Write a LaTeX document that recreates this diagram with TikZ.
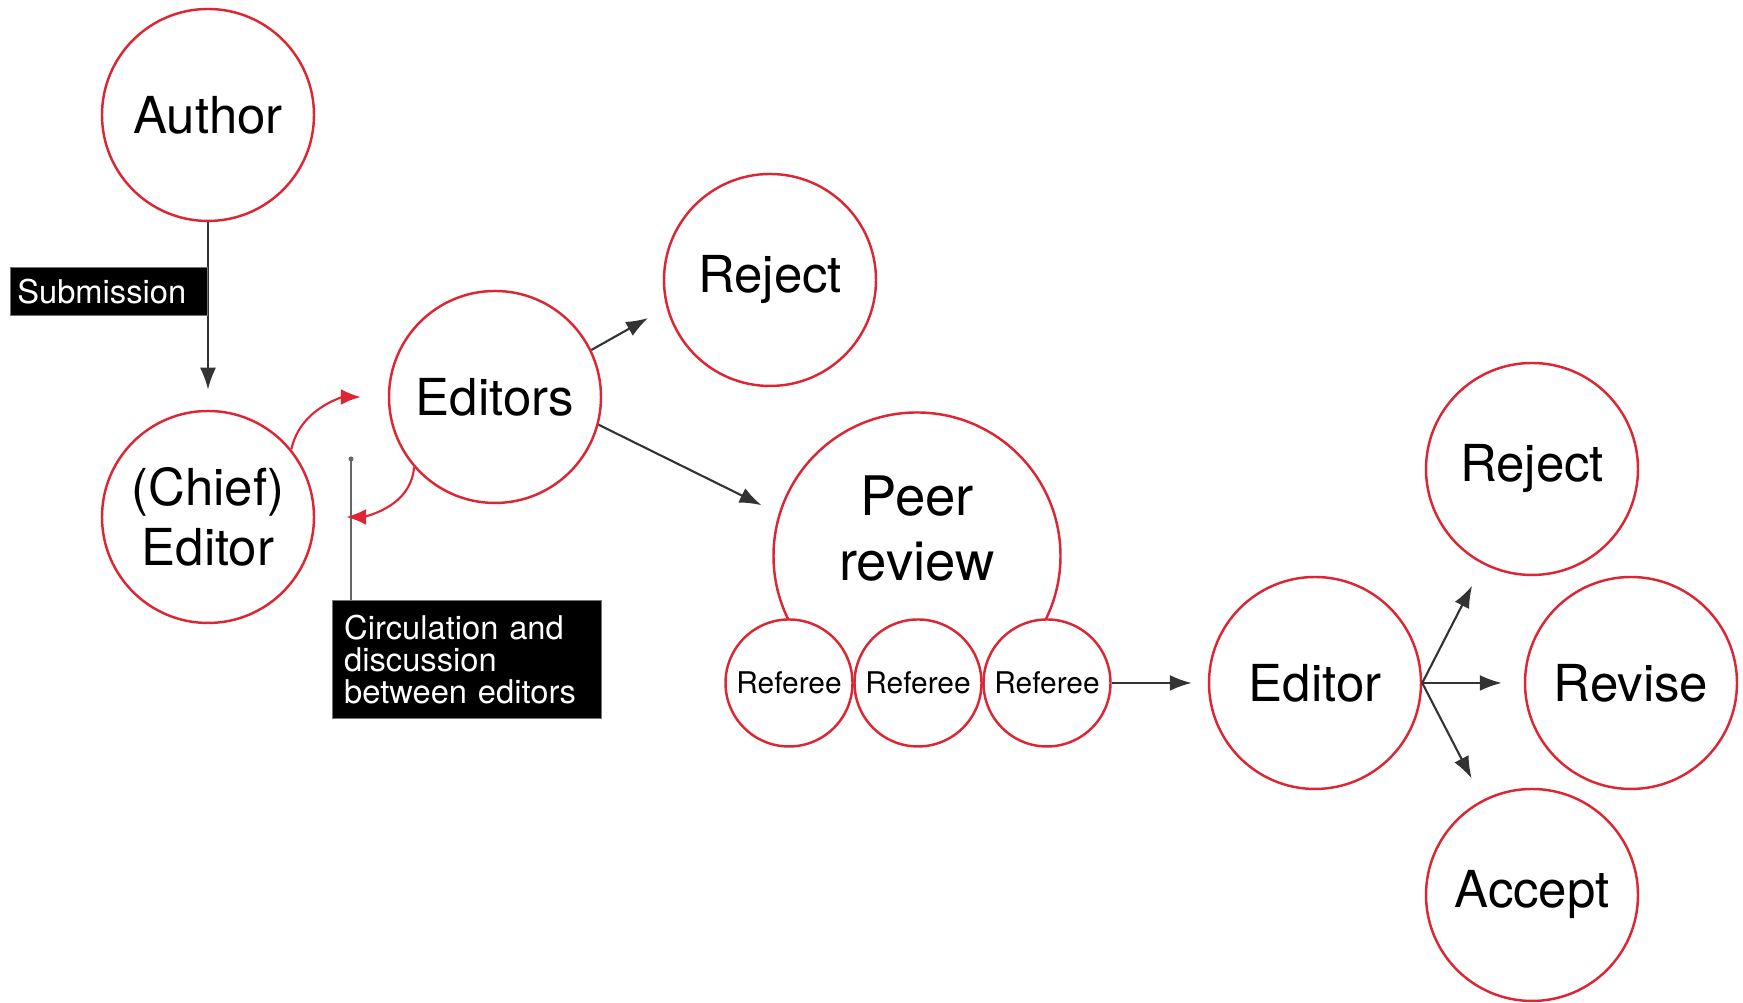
\documentclass[tikz,border=0pt]{standalone}
\usepackage{fontspec}
\setmainfont{TeX Gyre Heros}
\usetikzlibrary{arrows.meta,positioning,calc}
\definecolor{piros}{RGB}{221,38,52}
\tikzset{
  kor/.style={circle,draw=piros,line width=0.7pt,fill=white,minimum size=2.12cm,
    inner sep=0pt,align=center,font=\fontsize{14.5}{17}\selectfont},
  kiskor/.style={kor,minimum size=1.27cm,font=\fontsize{8.5}{10}\selectfont},
  nyil/.style={draw=black!80,line width=0.6pt,-{Latex[length=2.2mm,width=1.6mm]}},
  pirosnyil/.style={draw=piros,line width=0.6pt,-{Latex[length=2mm,width=1.6mm]}},
  cimke/.style={fill=black,draw=black!55,text=white,align=left,inner ysep=1pt,
    font=\fontsize{9.3}{9.2}\selectfont},
  mutato/.style={draw=black!60,line width=0.5pt},
}
\begin{document}
\begin{tikzpicture}
  \useasboundingbox (0,0) rectangle (17.43,10.03);
  \node[kor] (author) at (2.08,8.88) {Author};
  \node[kor] (chief) at (2.08,4.86) {(Chief)\\Editor};
  \node[kor] (editors) at (4.95,6.06) {Editors};
  \node[kor] (reject) at (7.70,7.23) {Reject};
  \node[kor,minimum size=2.87cm] (peer) at (9.17,4.47) {};
  \node[align=center,font=\fontsize{15.5}{18.5}\selectfont] (peertxt) at (9.17,4.74) {Peer\\review};
  \foreach \i/\x in {1/7.89,2/9.18,3/10.47}
    \node[kiskor] (ref\i) at (\x,3.20) {Referee};
  \node[kor] (editor) at (13.15,3.20) {Editor};
  \node[kor] (reject2) at (15.32,5.34) {Reject};
  \node[kor] (revise) at (16.31,3.20) {Revise};
  \node[kor] (accept) at (15.32,1.08) {Accept};
  % labels
  \draw[nyil,shorten >=0.2cm] (author) -- (chief);
  \node[cimke,anchor=north east,text width=1.83cm,inner xsep=0.07cm,minimum height=0.48cm] (subm) at (2.08,7.36) {Submission};
  \node[cimke,anchor=north west,text width=2.46cm,inner xsep=0.115cm,minimum height=1.18cm] (circ) at (3.32,4.03)
    {Circulation and\\discussion\\between editors};
  \coordinate (circdot) at (3.51,5.44);
  \draw[mutato] (circdot) -- (circdot |- circ.north);
  \fill[black!60] (circdot) circle (0.025);
  % arrows
  \draw[pirosnyil,shorten >=0.27cm] (chief.39) to[out=78,in=180] (editors.west);
  \draw[pirosnyil,shorten >=0.31cm] (editors.221) to[out=-95,in=0] (chief.east);
  \draw[nyil,shorten >=0.21cm] (editors.26) -- (reject.195);
  \draw[nyil,shorten >=0.19cm] (editors.-15) -- (peer.163);
  \draw[nyil,shorten >=0.16cm] (ref3.east) -- (editor.west);
  \draw[nyil,shorten >=0.24cm] (editor.east) -- (reject2);
  \draw[nyil,shorten >=0.22cm] (editor.east) -- (revise.west);
  \draw[nyil,shorten >=0.24cm] (editor.east) -- (accept);
\end{tikzpicture}
\end{document}
